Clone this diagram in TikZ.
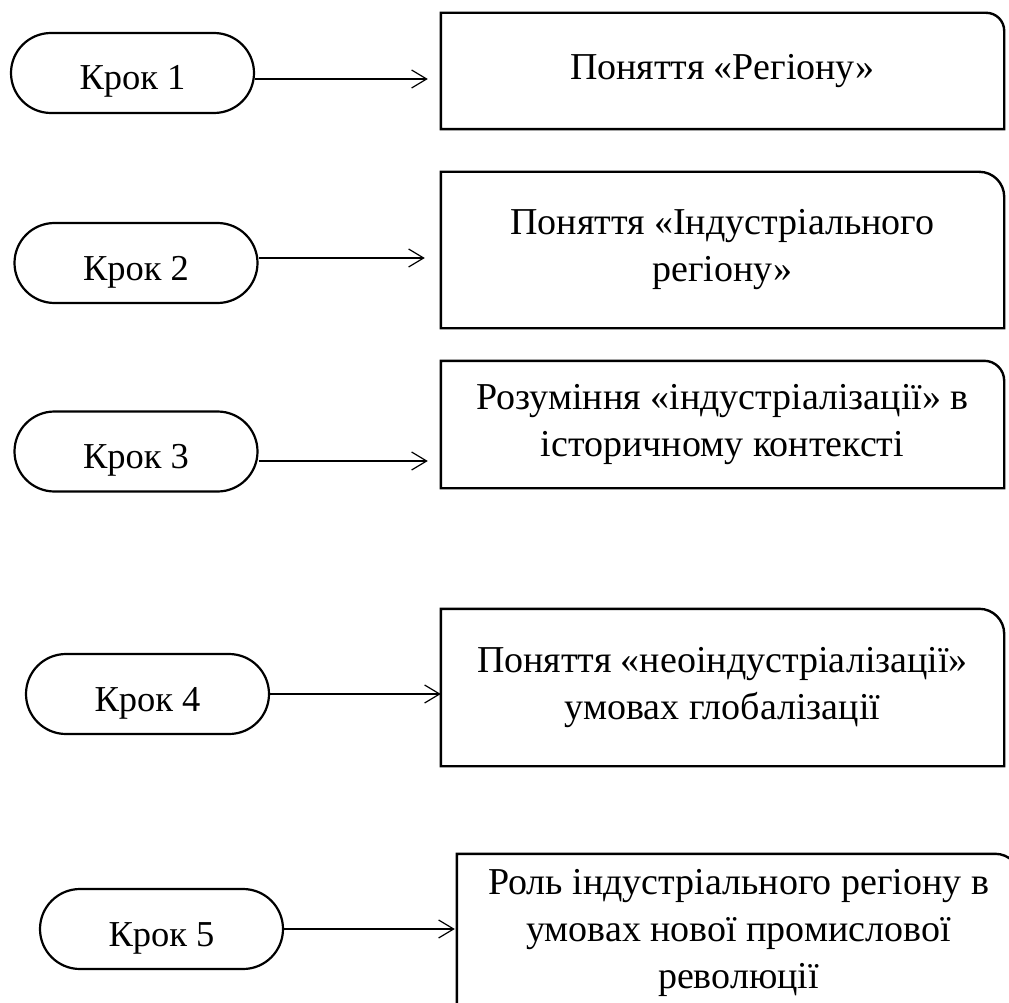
\documentclass[tikz,border=0pt]{standalone}
\usepackage{fontspec}
\setmainfont{Liberation Serif}
\usetikzlibrary{shapes.misc, arrows.meta}

% рамка з одним заокругленим кутом
\newcommand{\ramka}[2][25pt]{%
  \draw[kontur] (#2.south west) -- (#2.north west) -- ([xshift=-#1]#2.north east)
    arc[start angle=90, end angle=0, radius=#1] -- (#2.south east) -- cycle;}

\begin{document}
\begin{tikzpicture}[
    x=1pt, y=1pt,
    every node/.style={font=\fontsize{38}{47}\selectfont},
    krok/.style={draw, rounded rectangle, line width=2.2pt, minimum width=243pt, minimum height=80pt, inner sep=0pt, text height=40pt, text depth=6pt, font=\fontsize{36.5}{44}\selectfont},
    blok/.style={minimum width=563pt, inner sep=0pt, align=center},
    kontur/.style={line width=2.4pt},
    strilka/.style={line width=1.2pt, -{Straight Barb[length=15pt, width=18pt, line width=1.2pt]}}
]
\useasboundingbox (0,0) rectangle (1009,-1003);
\clip (0,0) rectangle (1009,-1003);
% Кроки
\node[krok] (krok1) at (132.5,-73) {Крок 1};
\node[krok] (krok2) at (136,-263) {Крок 2};
\node[krok] (krok3) at (136,-451.5) {Крок 3};
\node[krok] (krok4) at (147.5,-694) {Крок 4};
\node[krok] (krok5) at (161.5,-929) {Крок 5};
% Блоки
\node[blok, minimum height=116pt] (blok1) at (722.5,-71) {Поняття «Регіону»};
\node[blok, minimum height=156pt] (blok2) at (722.5,-250) {Поняття «Індустріального\\регіону»};
\node[blok, minimum height=127pt] (blok3) at (722.5,-424.5) {Розуміння «індустріалізації» в\\історичному контексті};
\node[blok, minimum height=157pt] (blok4) at (722.5,-687.5) {Поняття «неоіндустріалізації»\\умовах глобалізації};
\node[blok, minimum height=158pt] (blok5) at (738.5,-933) {Роль індустріального регіону в\\умовах нової промислової\\революції};
\ramka[18pt]{blok1}
\ramka{blok2}
\ramka[20pt]{blok3}
\ramka{blok4}
\ramka{blok5}
% Стрілки
\draw[strilka, shorten >=13pt] ([yshift=-6pt]krok1.east) -- ([yshift=-6pt]krok1.east -| blok1.west);
\draw[strilka, shorten >=16pt] ([yshift=5pt]krok2.east) -- ([yshift=5pt]krok2.east -| blok2.west);
\draw[strilka, shorten >=13pt] ([yshift=-9.5pt]krok3.east) -- ([yshift=-9.5pt]krok3.east -| blok3.west);
\draw[strilka] (krok4.east) -- (krok4.east -| blok4.west);
\draw[strilka, shorten >=2pt] (krok5.east) -- (krok5.east -| blok5.west);
\end{tikzpicture}
\end{document}
